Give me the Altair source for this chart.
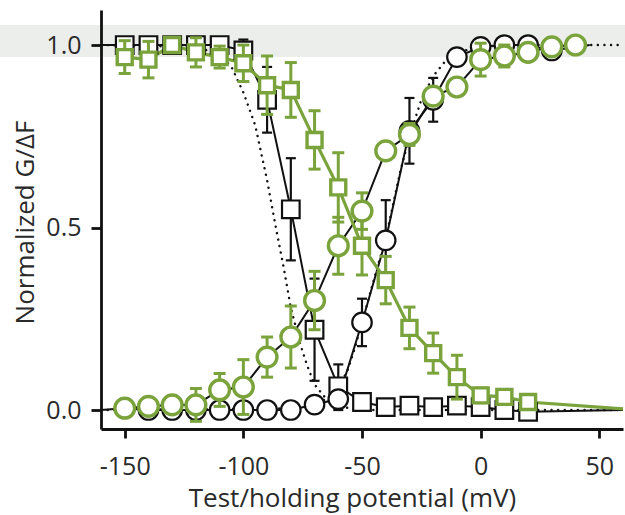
import altair as alt
import pandas as pd

GREEN = "#7aa33c"
BLACK = "#111111"
FONT = "Open Sans"

# ---- data ----
v_sq = [-150, -140, -130, -120, -110, -100, -90, -80, -70, -60, -50, -40, -30, -20, -10, 0, 10, 20]
v_bc = [-150, -140, -130, -120, -110, -100, -90, -80, -70, -60, -50, -40, -30, -20, -10, 0, 10, 20, 30]
v_gc = [-150, -140, -130, -120, -110, -100, -90, -80, -70, -60, -50, -40, -30, -20, -10, 0, 10, 20, 30, 40]

# black squares (inactivation, black)
bs = [1.0, 1.0, 1.0, 1.0, 1.0, 0.985, 0.85, 0.55, 0.22, 0.065, 0.022, 0.008, 0.012, 0.008, 0.012, 0.008, 0.0, -0.005]
bs_err = [0.0, 0.01, 0.0, 0.0, 0.0, 0.03, 0.09, 0.14, 0.14, 0.06, 0.01, 0.0, 0.0, 0.0, 0.0, 0.0, 0.0, 0.0]

# black circles (activation, black)
bc = [0.005, 0.0, 0.0, 0.0, 0.0, 0.0, 0.0, 0.0, 0.015, 0.03, 0.24, 0.465, 0.765, 0.85, 0.967, 0.995, 1.0, 1.0, 0.985]
bc_err = [0.0, 0.0, 0.0, 0.0, 0.0, 0.0, 0.0, 0.0, 0.01, 0.03, 0.065, 0.11, 0.09, 0.06, 0.02, 0.0, 0.0, 0.0, 0.0]

# green squares (inactivation, green)
gs = [0.967, 0.96, 1.0, 0.98, 0.967, 0.95, 0.89, 0.877, 0.74, 0.61, 0.45, 0.356, 0.225, 0.156, 0.09, 0.04, 0.036, 0.022]
gs_err = [0.045, 0.05, 0.02, 0.04, 0.03, 0.05, 0.08, 0.075, 0.08, 0.095, 0.08, 0.065, 0.057, 0.055, 0.06, 0.02, 0.02, 0.0]

# green circles (activation, green)
gc = [0.005, 0.01, 0.014, 0.014, 0.055, 0.063, 0.145, 0.20, 0.30, 0.45, 0.545, 0.71, 0.755, 0.86, 0.885, 0.96, 0.97, 0.98, 0.995, 1.0]
gc_err = [0.0, 0.0, 0.01, 0.045, 0.045, 0.075, 0.055, 0.085, 0.08, 0.078, 0.05, 0.02, 0.03, 0.02, 0.02, 0.045, 0.03, 0.02, 0.0, 0.0]

# dotted curves
dotA_v = [-160, -120, -110, -105, -100, -95, -90, -86, -83, -80, -76, -73, -70, -65, -60, -50, 60]
dotA_y = [1.0, 0.995, 0.975, 0.94, 0.87, 0.78, 0.63, 0.49, 0.39, 0.28, 0.18, 0.12, 0.07, 0.03, 0.01, 0.0, 0.0]
dotB_v = [-160, -75, -65, -60, -56, -53, -50, -47, -44, -40, -37, -34, -30, -25, -20, -15, -10, 0, 10, 60]
dotB_y = [0.0, 0.005, 0.03, 0.06, 0.11, 0.17, 0.24, 0.31, 0.38, 0.47, 0.56, 0.65, 0.75, 0.85, 0.915, 0.955, 0.98, 0.995, 1.0, 1.0]

# line end extensions
bs_line_v = [-160] + v_sq + [60]
bs_line_y = [1.0] + bs + [0.0]
bc_line_v = [-160] + v_bc + [46]
bc_line_y = [0.0] + bc + [1.0]
gs_line_v = v_sq + [60]
gs_line_y = gs + [0.003]
gc_line_v = v_gc
gc_line_y = gc

band_top, band_bottom = 1.055, 0.967

xscale = alt.Scale(domain=[-160, 60], nice=False, zero=False)
yscale = alt.Scale(domain=[-0.052, 1.096], nice=False, zero=False)

x_axis = alt.Axis(
    values=[-150, -100, -50, 0, 50], labelExpr="'' + datum.value",
    title="Test/holding potential (mV)", tickSize=9, labelPadding=16,
    titleX=251, titleY=77, titleBaseline="alphabetic", titleAlign="center",
    labelFlush=False, grid=False, zindex=1)
y_axis = alt.Axis(
    values=[0, 0.5, 1.0], format=".1f", title="Normalized G/ΔF",
    tickSize=10, labelPadding=10, titleAngle=270, titleX=-68, titleY=212,
    titleBaseline="alphabetic", titleAlign="center", labelFlush=False,
    grid=False, zindex=1)


def X():
    return alt.X("v:Q", scale=xscale, axis=x_axis)


def Y(field="y"):
    return alt.Y(f"{field}:Q", scale=yscale, axis=y_axis)


def line(v, y, color, width, dash=None):
    df = pd.DataFrame({"v": v, "y": y})
    kw = dict(color=color, strokeWidth=width, clip=False)
    if dash is not None:
        kw["strokeDash"] = dash
        kw["strokeCap"] = "round"
    return alt.Chart(df).mark_line(**kw).encode(x=X(), y=Y())


def errbars(v, y, e, color, width, half):
    rows = [(a, b - c, b + c) for a, b, c in zip(v, y, e) if c > 0.012]
    df = pd.DataFrame(rows, columns=["v", "lo", "hi"])
    base = alt.Chart(df)
    stem = base.mark_rule(color=color, strokeWidth=width).encode(
        x=X(), y=Y("lo"), y2="hi:Q")
    cap_lo = base.mark_rule(color=color, strokeWidth=width, xOffset=-half, x2Offset=half).encode(
        x=X(), x2="v:Q", y=Y("lo"))
    cap_hi = base.mark_rule(color=color, strokeWidth=width, xOffset=-half, x2Offset=half).encode(
        x=X(), x2="v:Q", y=Y("hi"))
    return [stem, cap_lo, cap_hi]


def points(v, y, shape, color, size, sw):
    df = pd.DataFrame({"v": v, "y": y})
    return alt.Chart(df).mark_point(
        shape=shape, filled=True, fill="white", fillOpacity=1, stroke=color,
        strokeWidth=sw, size=size, opacity=1).encode(x=X(), y=Y())


band = alt.Chart(pd.DataFrame({"y": [band_top], "y2": [band_bottom]})).mark_rect(
    color="#eceeec", clip=False).encode(
    x=alt.value(-101), x2=alt.value(524), y=Y("y"), y2="y2:Q")

layers = [band,
          line(dotA_v, dotA_y, BLACK, 2.4, [0.1, 6.5]),
          line(dotB_v, dotB_y, BLACK, 2.4, [0.1, 6.5]),
          line(bs_line_v, bs_line_y, BLACK, 2.0),
          line(bc_line_v, bc_line_y, BLACK, 2.0),
          line(gc_line_v, gc_line_y, BLACK, 2.0),
          line(gs_line_v, gs_line_y, GREEN, 3.2)]
layers += errbars(v_sq, bs, bs_err, BLACK, 2.2, 5)
layers += errbars(v_bc, bc, bc_err, BLACK, 2.2, 5)
layers += [points(v_sq, bs, "square", BLACK, 310, 2.2),
           points(v_bc, bc, "circle", BLACK, 380, 2.2)]
layers += errbars(v_sq, gs, gs_err, GREEN, 3.0, 6)
layers += errbars(v_gc, gc, gc_err, GREEN, 3.0, 6)
layers += [points(v_sq, gs, "square", GREEN, 225, 3.4),
           points(v_gc, gc, "circle", GREEN, 390, 3.4)]

chart = alt.layer(*layers).properties(
    width=522, height=419,
    autosize=alt.AutoSizeParams(type="none"),
    padding={"left": 101, "top": 10, "right": 2, "bottom": 86},
    background="white",
).configure_view(stroke=None).configure_axis(
    domainColor=BLACK, domainWidth=2.8, tickColor=BLACK, tickWidth=2.8,
    labelFont=FONT, labelFontSize=25, labelColor="#2a2a2a",
    titleFont=FONT, titleFontSize=26, titleFontWeight="normal", titleColor="#2a2a2a",
)

chart.save("out.html", embed_options={"renderer": "svg", "actions": False})
